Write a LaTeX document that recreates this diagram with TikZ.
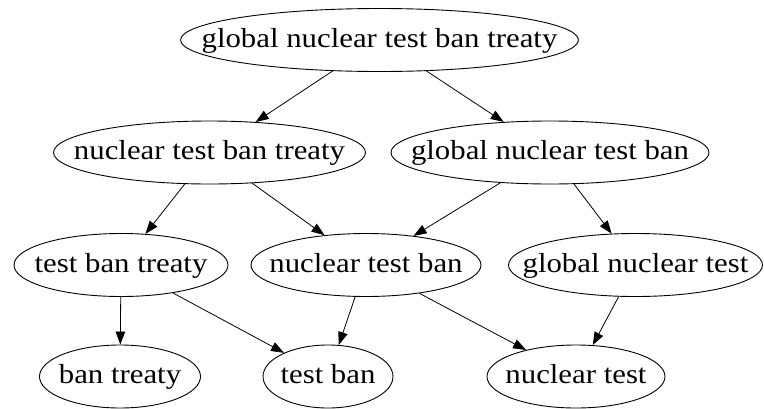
\documentclass[tikz,border=0pt]{standalone}
\usepackage{fontspec}
\usepackage{graphicx}
\setmainfont{Liberation Serif}
\usetikzlibrary{shapes.geometric,arrows.meta}
\newcommand{\ndtext}[1]{\makebox[0pt]{\scalebox{1.12}[1]{#1}}}
\tikzset{
  gnode/.style={ellipse, draw=black, line width=0.9pt, inner sep=0pt,
    minimum height=63pt, text height=19pt, text depth=5pt,
    font=\fontsize{27.5pt}{33pt}\selectfont},
  gedge/.style={draw=black, line width=0.8pt, -{Triangle[length=13pt,width=9.5pt]}}
}
\begin{document}
\begin{tikzpicture}[x=1pt,y=-1pt]
\useasboundingbox (0,0) rectangle (764,408);
\node[gnode, minimum width=398pt] (gntbt) at (379.5,40) {\ndtext{global nuclear test ban treaty}};
\node[gnode, minimum width=312pt] (ntbt) at (209.5,152.5) {\ndtext{nuclear test ban treaty}};
\node[gnode, minimum width=318pt] (gntb) at (550,152.5) {\ndtext{global nuclear test ban}};
\node[gnode, minimum width=214pt] (tbt) at (121,265) {\ndtext{test ban treaty}};
\node[gnode, minimum width=230pt] (ntb) at (366,265) {\ndtext{nuclear test ban}};
\node[gnode, minimum width=254pt] (gnt) at (635.5,265) {\ndtext{global nuclear test}};
\node[gnode, minimum width=161pt] (bt) at (120,376.5) {\ndtext{ban treaty}};
\node[gnode, minimum width=130pt] (tb) at (328,376.5) {\ndtext{test ban}};
\node[gnode, minimum width=178pt] (nt) at (576,376.5) {\ndtext{nuclear test}};
\draw[gedge] (gntbt) -- (ntbt);
\draw[gedge] (gntbt) -- (gntb);
\draw[gedge] (ntbt) -- (tbt);
\draw[gedge] (ntbt) -- (ntb);
\draw[gedge] (gntb) -- (ntb);
\draw[gedge] (gntb) -- (gnt);
\draw[gedge] (tbt) -- (bt);
\draw[gedge] (tbt) -- (tb);
\draw[gedge] (ntb) -- (tb);
\draw[gedge] (ntb) -- (nt);
\draw[gedge] (gnt) -- (nt);
\end{tikzpicture}
\end{document}
